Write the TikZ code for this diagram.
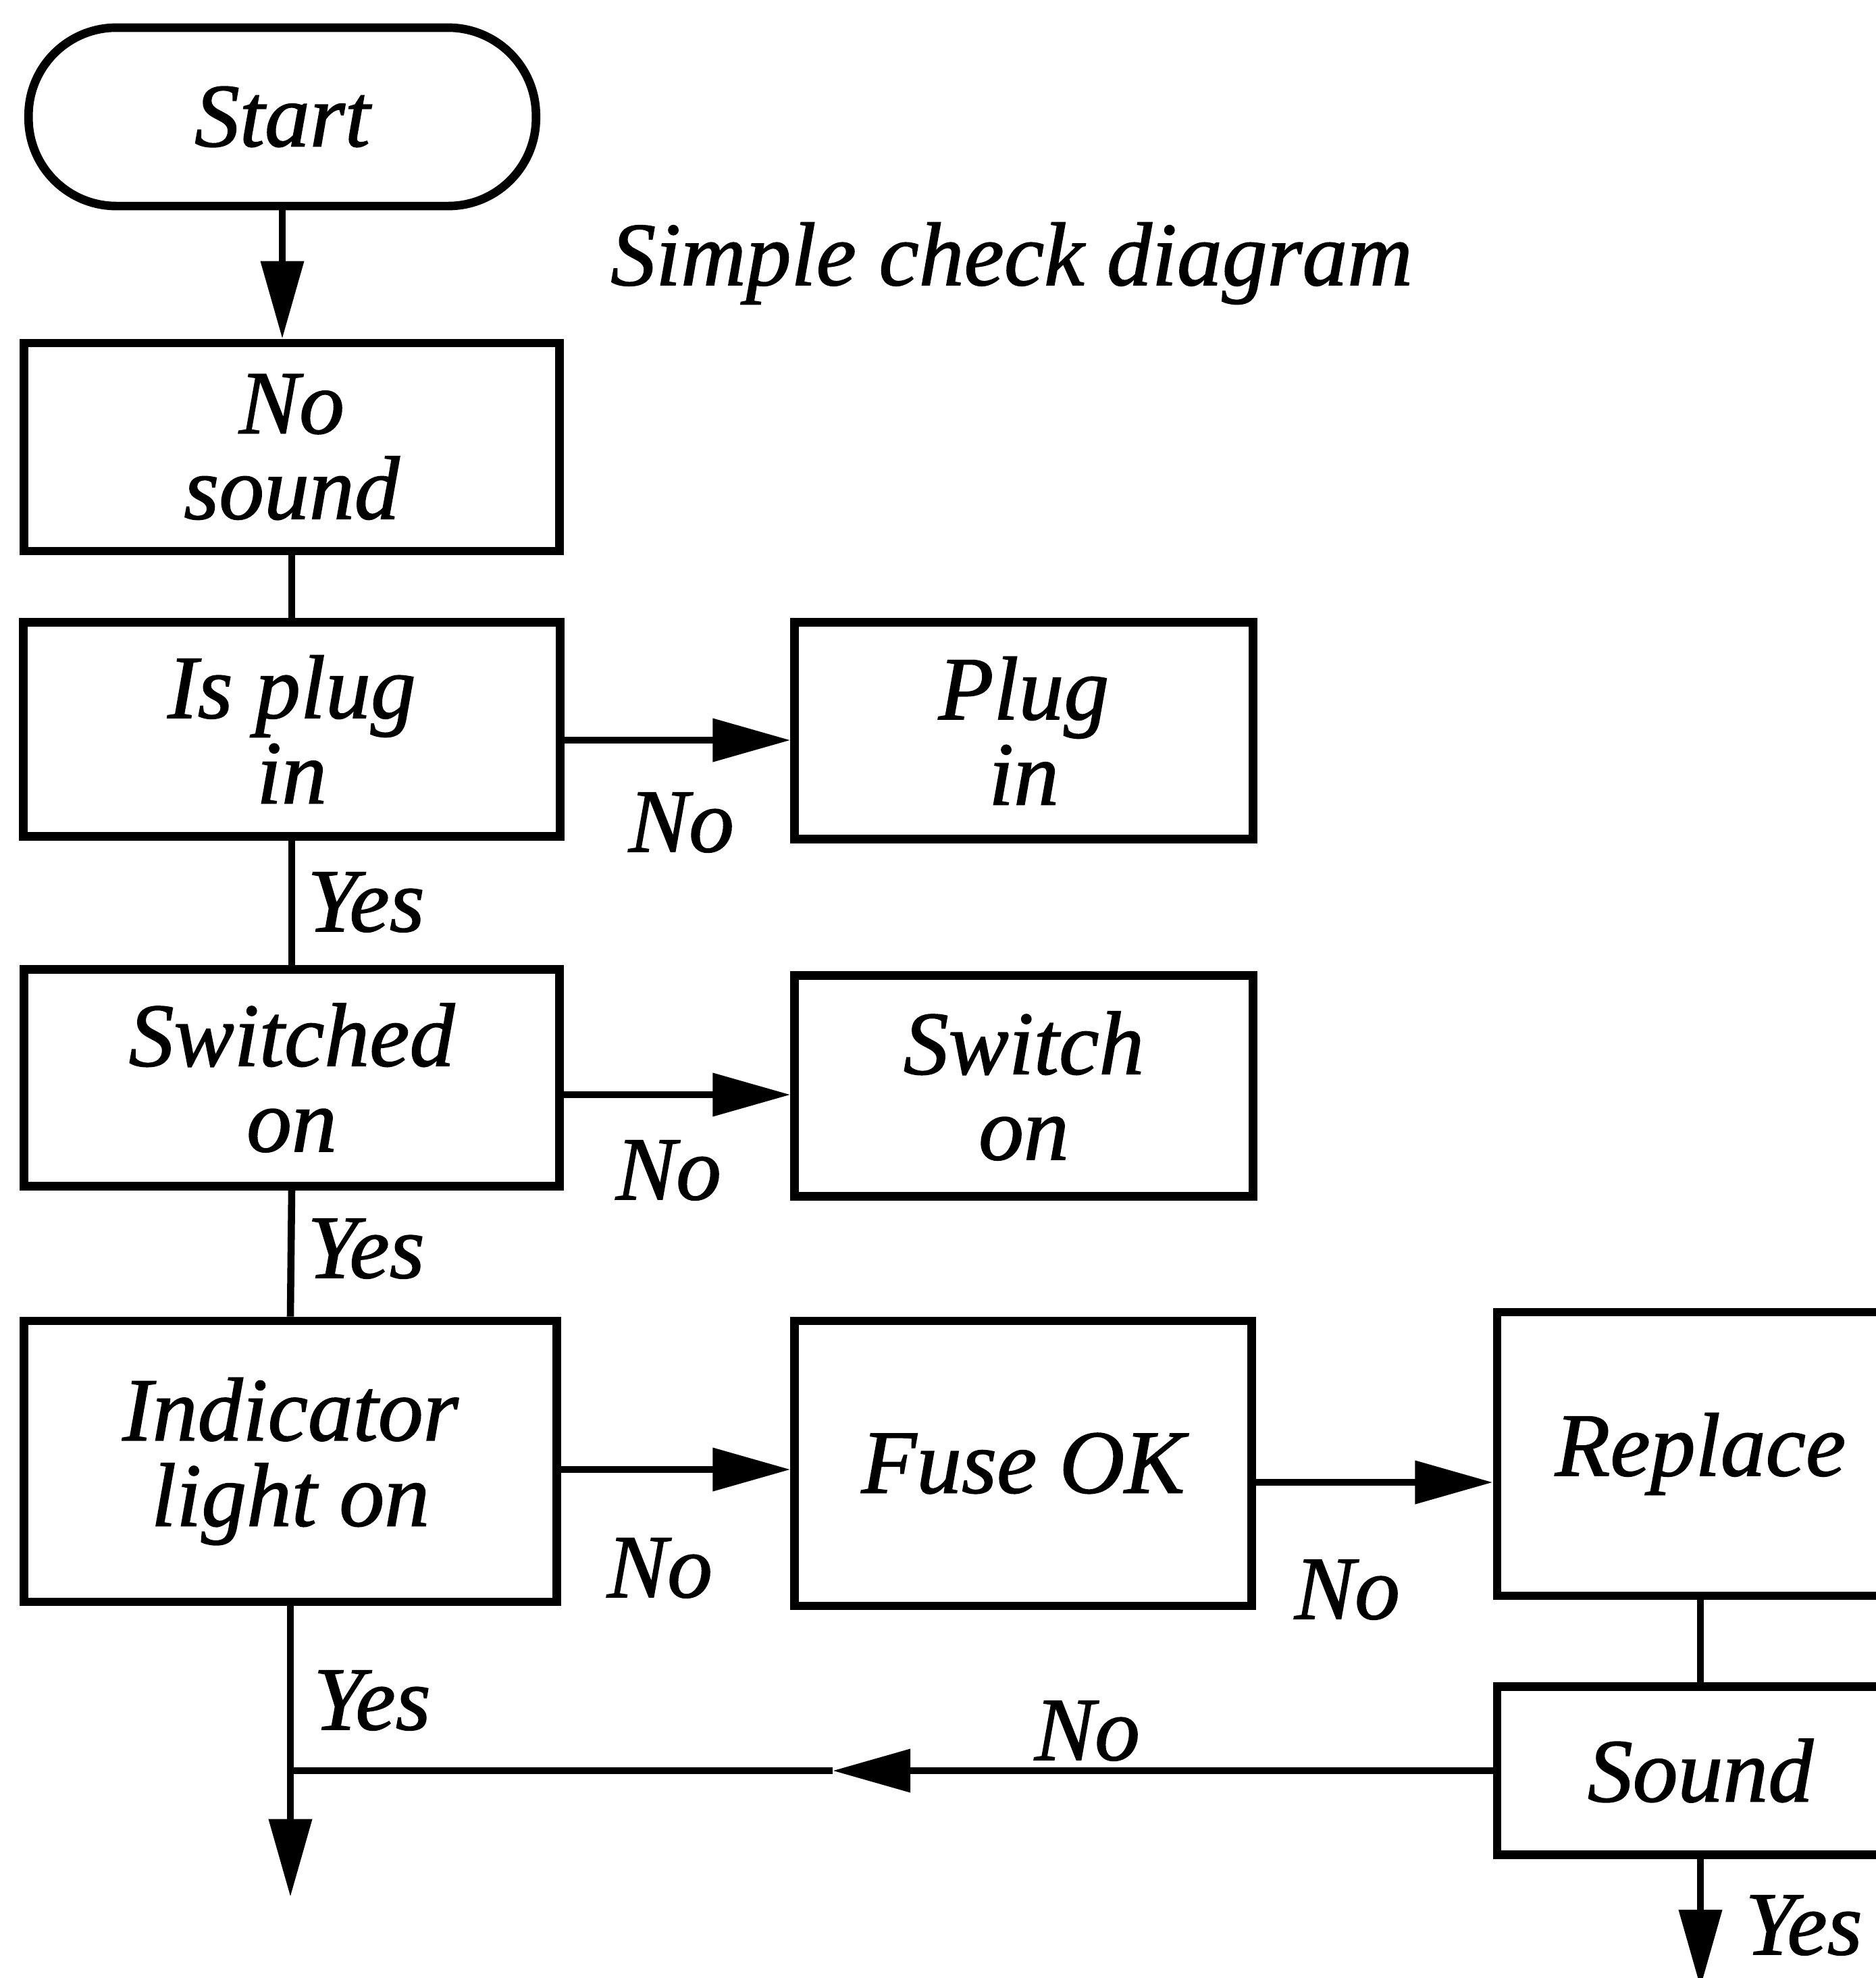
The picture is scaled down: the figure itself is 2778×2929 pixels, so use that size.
\documentclass[tikz,border=0pt]{standalone}
\usepackage{fontspec}
\setmainfont{Liberation Serif}[ItalicFeatures={FakeBold=1.2}]
\usetikzlibrary{arrows.meta}
\begin{document}
\begin{tikzpicture}[x=0.01cm,y=-0.01cm,
  every node/.style={font=\fontsize{38}{36}\selectfont\itshape},
  box/.style={draw, line width=3.6pt, rectangle, align=center, inner sep=0pt},
  term/.style={draw, line width=3.6pt, rounded corners=1.3cm, align=center, inner sep=0pt},
  conn/.style={line width=3pt},
  arr/.style={conn, -{Triangle[length=1.15cm,width=0.62cm]}},
  lbl/.style={inner sep=0pt}]
\useasboundingbox (0,0) rectangle (2778,2929);
\clip (0,0) rectangle (2778,2929);

% nodes
\node[term, minimum width=7.51cm, minimum height=2.64cm] (start) at (418,173) {\raisebox{-0.12cm}{Start}};
\node (title) at (1498,390) {Simple check diagram};
\node[box, minimum width=7.92cm, minimum height=3.08cm] (nosound) at (432,662) {No\\sound};
\node[box, minimum width=7.94cm, minimum height=3.17cm] (isplug) at (432,1080) {Is plug\\in};
\node[box, minimum width=6.78cm, minimum height=3.21cm] (plugin) at (1516,1082) {Plug\\in};
\node[box, minimum width=7.92cm, minimum height=3.21cm] (switched) at (432,1596) {Switched\\on};
\node[box, minimum width=6.78cm, minimum height=3.27cm] (switchon) at (1516,1608) {Switch\\on};
\node[box, minimum width=7.89cm, minimum height=4.16cm] (indicator) at (430,2164) {Indicator\\light on};
\node[box, minimum width=6.76cm, minimum height=4.22cm] (fuse) at (1515,2167) {Fuse OK};
\node[box, minimum width=6.02cm, minimum height=4.20cm] (replace) at (2518,2153) {Replace};
\node[box, minimum width=6.02cm, minimum height=2.49cm] (sound) at (2518,2622) {Sound};

% labels
\node[lbl] (l1) at (1009,1218) {No};
\node[lbl] (l2) at (542,1336) {Yes};
\node[lbl] (l3) at (990,1733) {No};
\node[lbl] (l4) at (542,1849) {Yes};
\node[lbl] (l5) at (977,2322) {No};
\node[lbl] (l6) at (1995,2354) {No};
\node[lbl] (l7) at (551,2518) {Yes};
\node[lbl] (l8) at (1610,2563) {No};
\node[lbl] (l9) at (2671,2851) {Yes};

% helper coordinates
\coordinate (a1) at ([yshift=-0.16cm]isplug.east);
\coordinate (a2) at ([yshift=-0.25cm]switched.east);
\coordinate (a3) at ([yshift=-0.12cm]indicator.east);
\coordinate (a4) at ([yshift=-0.28cm]fuse.east);
\coordinate (mid) at (1233,2622);
\coordinate (join) at (indicator.south |- sound.west);
\coordinate (yesend) at ([yshift=-4.3cm]indicator.south);
\coordinate (soundend) at ([yshift=-1.9cm]sound.south);

% connectors
\draw[arr] (start.south) -- (start.south |- nosound.north);
\draw[conn] (nosound.south) -- (isplug.north);
\draw[conn] (isplug.south) -- (switched.north);
\draw[conn] (switched.south) -- (indicator.north);
\draw[arr] (a1) -- (a1 -| plugin.west);
\draw[arr] (a2) -- (a2 -| switchon.west);
\draw[arr] (a3) -- (a3 -| fuse.west);
\draw[arr] (a4) -- (a4 -| replace.west);
\draw[conn] (replace.south) -- (sound.north);
\draw[arr] (sound.west) -- (mid);
\draw[conn] (mid) -- (join);
\draw[arr] (indicator.south) -- (yesend);
\draw[arr] (sound.south) -- (soundend);
\end{tikzpicture}
\end{document}
